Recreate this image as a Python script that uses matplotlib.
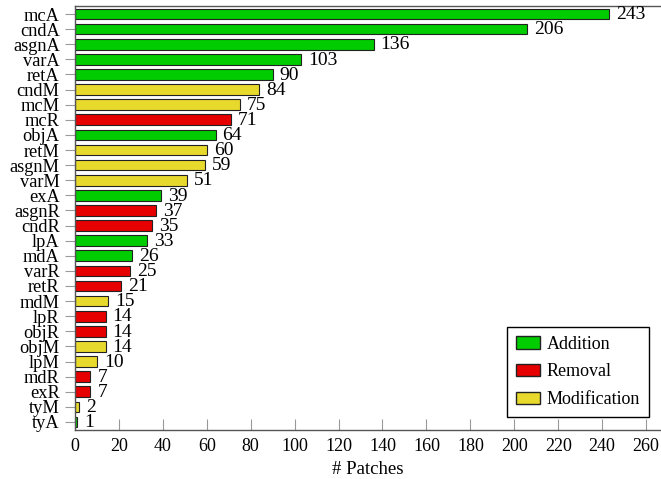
import matplotlib
matplotlib.use("Agg")
import matplotlib.pyplot as plt
from matplotlib.patches import Patch

plt.rcParams['font.family'] = ['Liberation Serif', 'DejaVu Serif']

# data, top to bottom
labels = ["mcA", "cndA", "asgnA", "varA", "retA", "cndM", "mcM", "mcR", "objA",
          "retM", "asgnM", "varM", "exA", "asgnR", "cndR", "lpA", "mdA", "varR",
          "retR", "mdM", "lpR", "objR", "objM", "lpM", "mdR", "exR", "tyM", "tyA"]
values = [243, 206, 136, 103, 90, 84, 75, 71, 64, 60, 59, 51, 39, 37, 35, 33,
          26, 25, 21, 15, 14, 14, 14, 10, 7, 7, 2, 1]
kinds = ["A", "A", "A", "A", "A", "M", "M", "R", "A", "M", "M", "M", "A", "R",
         "R", "A", "A", "R", "R", "M", "R", "R", "M", "M", "R", "R", "M", "A"]

colors = {"A": "#00cc00", "R": "#e60000", "M": "#e8d92d"}
names = {"A": "Addition", "R": "Removal", "M": "Modification"}

fig = plt.figure(figsize=(6.61, 4.79), dpi=100)
# axes box measured in px: left 75, right edge of figure, top 6, bottom 430
ax = fig.add_axes([75 / 661, 1 - 430 / 479, 586 / 661, 424 / 479])

n = len(labels)
ys = list(range(n))
ax.barh(ys, values, height=0.7, color=[colors[k] for k in kinds],
        edgecolor="#222222", linewidth=0.8)
for y, v in zip(ys, values):
    ax.annotate(str(v), (v, y), xytext=(5, -0.5), textcoords="offset points",
                va="center", ha="left", fontsize=14)

ax.set_ylim(n - 0.47, -0.53)
ax.set_xlim(0, 266.8)
ax.set_yticks(ys)
ax.set_yticklabels(labels, fontsize=13.2)
ax.set_xticks(range(0, 261, 20))
ax.tick_params(axis="x", direction="in", length=8, color="#999999", labelsize=13, pad=6)
ax.tick_params(axis="y", direction="out", length=7, color="#999999", pad=4)
ax.spines["right"].set_visible(False)
for s in ["left", "bottom", "top"]:
    ax.spines[s].set_color("#555555")
    ax.spines[s].set_linewidth(1.0)
ax.set_xlabel("# Patches", fontsize=13.5, labelpad=4)

handles = [Patch(facecolor=colors[k], edgecolor="#222222", label=names[k]) for k in ["A", "R", "M"]]
leg = ax.legend(handles=handles, loc="lower right", bbox_to_anchor=(0.98, 0.03),
                borderaxespad=0, fontsize=13, fancybox=False, edgecolor="black",
                framealpha=1, handlelength=1.3, handleheight=0.7, handletextpad=0.4,
                labelspacing=0.6, borderpad=0.5)
leg.get_frame().set_linewidth(1.0)

fig.savefig("out.png", dpi=100)
